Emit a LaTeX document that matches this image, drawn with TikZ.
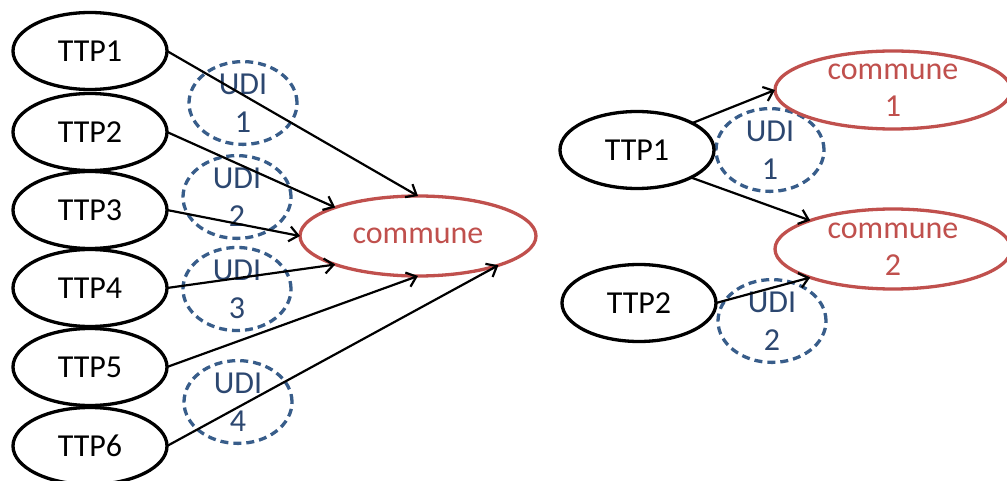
\documentclass[tikz,border=0pt]{standalone}
\usepackage{fontspec}
\setmainfont{Carlito}
\usetikzlibrary{shapes.geometric,arrows.meta}
\definecolor{ttpblack}{HTML}{000000}
\definecolor{comred}{HTML}{C0504D}
\definecolor{udiline}{HTML}{385D8A}
\definecolor{uditext}{HTML}{2C4770}
\tikzset{
  ttp/.style={ellipse,draw=ttpblack,line width=3.3pt,minimum width=154pt,minimum height=77pt,inner sep=0pt,outer sep=0pt,font=\fontsize{32}{38}\selectfont},
  udi/.style={ellipse,draw=udiline,line width=3.3pt,dash pattern=on 8pt off 5pt,minimum width=108pt,minimum height=78pt,inner sep=0pt,outer sep=0pt,text=uditext,align=center,font=\fontsize{32}{38}\selectfont},
  com/.style={ellipse,draw=comred,fill=white,line width=3.3pt,minimum width=236pt,minimum height=80pt,inner sep=0pt,outer sep=0pt,text=comred,align=center,font=\fontsize{32}{37}\selectfont},
  link/.style={line width=2.2pt,-{Straight Barb[length=9pt,width=15pt]}}
}
\begin{document}
\begin{tikzpicture}[x=1pt,y=-1pt]
\useasboundingbox (0,0) rectangle (1007,481);
% left part
\node[udi] (u1) at (243,103) {UDI\\1};
\node[udi] (u2) at (237,197) {UDI\\2};
\node[udi] (u3) at (237,289) {UDI\\3};
\node[udi] (u4) at (238,402) {UDI\\4};
\node[ttp] (t1) at (90,51) {TTP1};
\node[ttp] (t2) at (90,132) {TTP2};
\node[ttp] (t3) at (90,210) {TTP3};
\node[ttp] (t4) at (90,288) {TTP4};
\node[ttp] (t5) at (90,367) {TTP5};
\node[ttp] (t6) at (90,446) {TTP6};
\node[com] (c) at (418,236) {commune};
\draw[link] (t1.east) -- (c.90);
\draw[link] (t2.east) -- (c.161);
\draw[link] (t3.east) -- (c.180);
\draw[link] (t4.east) -- (c.199);
\draw[link] (t5.east) -- (c.270);
\draw[link] (t6.east) -- (c.340);
% right part
\node[udi] (ru1) at (770,150) {UDI\\1};
\node[udi] (ru2) at (772,321) {UDI\\2};
\node[ttp] (r1) at (637,150) {TTP1};
\node[ttp] (r2) at (639,303) {TTP2};
\node[com,minimum height=78pt] (c1) at (893,90) {commune\\1};
\node[com] (c2) at (893,249) {commune\\2};
\draw[link] (r1.26) -- (c1.180);
\draw[link] (r1.333) -- (c2.161);
\draw[link] (r2.east) -- (c2.199);
\end{tikzpicture}
\end{document}
